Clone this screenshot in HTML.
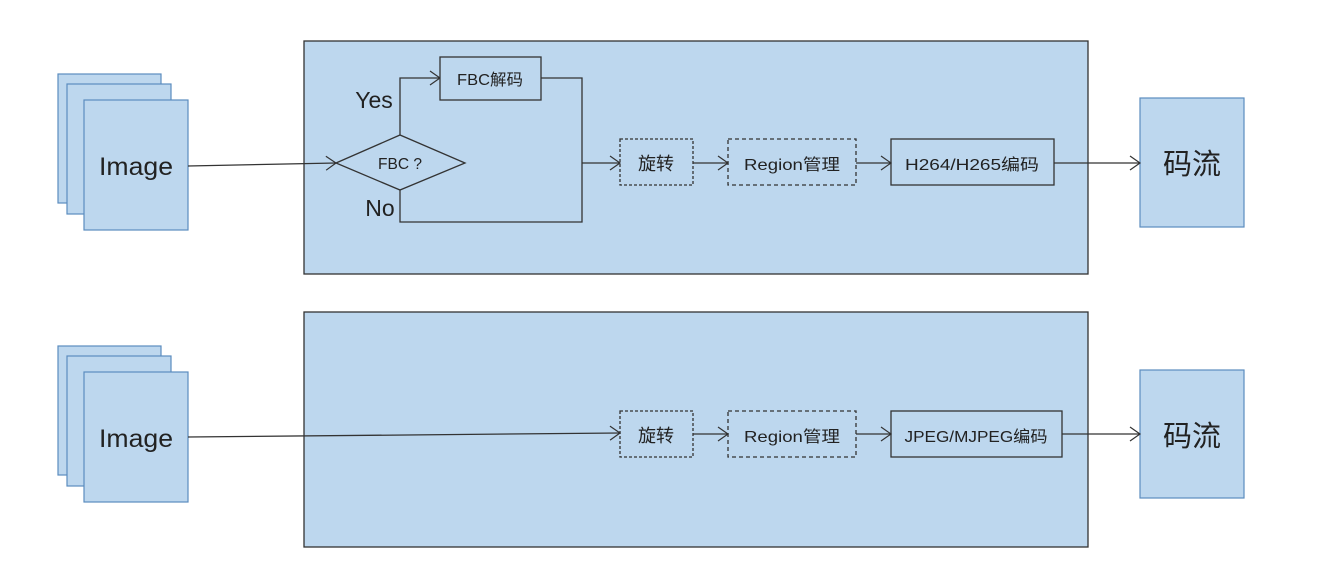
<!DOCTYPE html>
<html><head><meta charset="utf-8"><style>
html,body{margin:0;padding:0;background:#fff;}
svg text{font-family:"Liberation Sans","Noto Sans CJK SC",sans-serif;fill:#222;}
</style></head><body>
<svg width="1344" height="572" viewBox="0 0 1344 572" xmlns="http://www.w3.org/2000/svg">
<defs>
<marker id="a" markerWidth="14" markerHeight="16" refX="11" refY="8" orient="auto" markerUnits="userSpaceOnUse">
<path d="M1,1 L11,8 L1,15" fill="none" stroke="#333" stroke-width="1.2"/>
</marker>
</defs>
<g stroke="#333" stroke-width="1.3" fill="#bdd7ee">
<rect x="304" y="41" width="784" height="233"/>
<rect x="304" y="312" width="784" height="235"/>
</g>
<g fill="#bdd7ee" stroke="#5b8cbf" stroke-width="1.2">
<rect x="58" y="74" width="103" height="129"/>
<rect x="67" y="84" width="104" height="130"/>
<rect x="84" y="100" width="104" height="130"/>
<rect x="58" y="346" width="103" height="129"/>
<rect x="67" y="356" width="104" height="130"/>
<rect x="84" y="372" width="104" height="130"/>
<rect x="1140" y="98" width="104" height="129"/>
<rect x="1140" y="370" width="104" height="128"/>
</g>
<g font-size="25">
<text x="136" y="175" text-anchor="middle" textLength="74" lengthAdjust="spacingAndGlyphs">Image</text>
<text x="136" y="447" text-anchor="middle" textLength="74" lengthAdjust="spacingAndGlyphs">Image</text>
<text x="1192" y="174" text-anchor="middle" font-size="29">码流</text>
<text x="1192" y="446" text-anchor="middle" font-size="29">码流</text>
</g>
<g stroke="#333" stroke-width="1.3" fill="none">
<line x1="188" y1="166" x2="336" y2="163" marker-end="url(#a)"/>
<polygon points="336,163 400,135 465,163 400,190" fill="#bdd7ee"/>
<polyline points="400,135 400,78 440,78" marker-end="url(#a)"/>
<rect x="440" y="57" width="101" height="43" fill="#bdd7ee"/>
<polyline points="541,78 582,78 582,222 400,222 400,190"/>
<line x1="582" y1="163" x2="620" y2="163" marker-end="url(#a)"/>
<rect x="620" y="139" width="73" height="46" stroke-dasharray="3,2"/>
<line x1="693" y1="163" x2="728" y2="163" marker-end="url(#a)"/>
<rect x="728" y="139" width="128" height="46" stroke-dasharray="4,3"/>
<line x1="856" y1="163" x2="891" y2="163" marker-end="url(#a)"/>
<rect x="891" y="139" width="163" height="46"/>
<line x1="1054" y1="163" x2="1140" y2="163" marker-end="url(#a)"/>

<line x1="188" y1="437" x2="620" y2="433" marker-end="url(#a)"/>
<rect x="620" y="411" width="73" height="46" stroke-dasharray="3,2"/>
<line x1="693" y1="434" x2="728" y2="434" marker-end="url(#a)"/>
<rect x="728" y="411" width="128" height="46" stroke-dasharray="4,3"/>
<line x1="856" y1="434" x2="891" y2="434" marker-end="url(#a)"/>
<rect x="891" y="411" width="171" height="46"/>
<line x1="1062" y1="434" x2="1140" y2="434" marker-end="url(#a)"/>
</g>
<g font-size="16" text-anchor="middle">
<text x="400" y="169" textLength="44" lengthAdjust="spacingAndGlyphs">FBC ?</text>
<text x="490" y="85" textLength="66" lengthAdjust="spacingAndGlyphs">FBC解码</text>
<text x="656" y="170" font-size="18">旋转</text>
<text x="792" y="170" textLength="96" lengthAdjust="spacingAndGlyphs">Region管理</text>
<text x="972" y="170" textLength="134" lengthAdjust="spacingAndGlyphs">H264/H265编码</text>
<text x="656" y="442" font-size="18">旋转</text>
<text x="792" y="442" textLength="96" lengthAdjust="spacingAndGlyphs">Region管理</text>
<text x="976" y="442" textLength="143" lengthAdjust="spacingAndGlyphs">JPEG/MJPEG编码</text>
</g>
<text x="374" y="108" font-size="23" text-anchor="middle">Yes</text>
<text x="380" y="216" font-size="23" text-anchor="middle">No</text>
</svg>
</body></html>
